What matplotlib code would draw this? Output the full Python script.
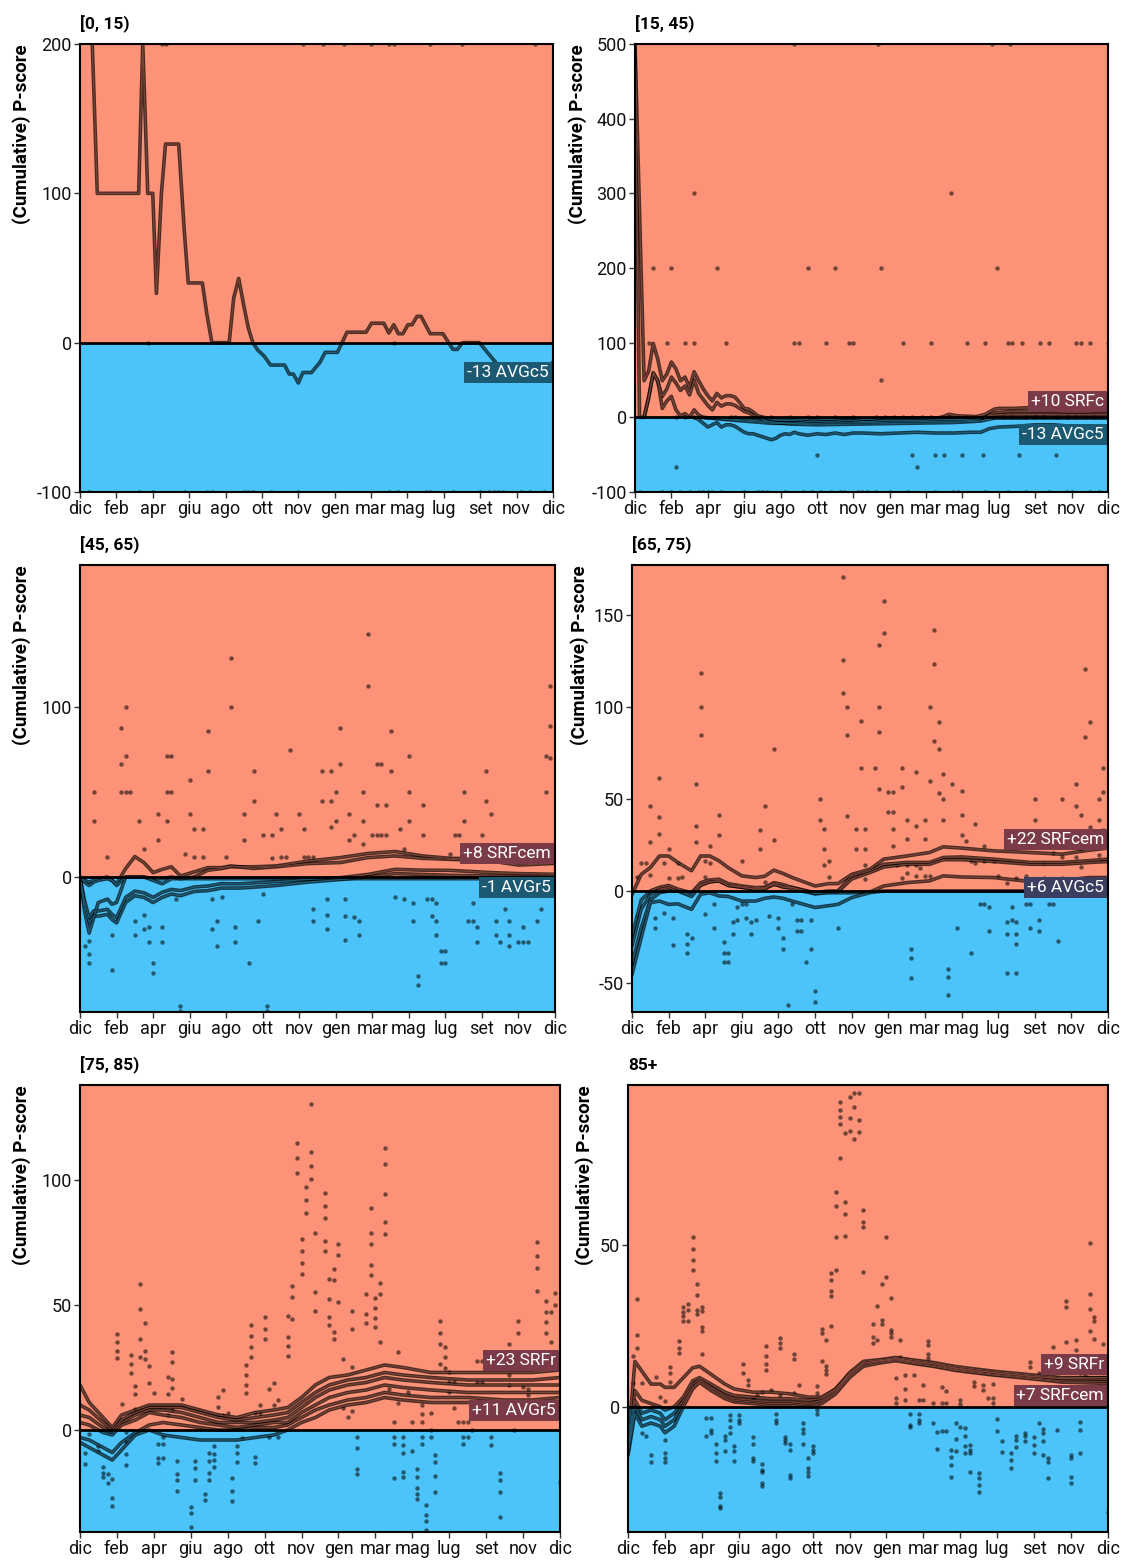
import matplotlib
matplotlib.use('Agg')
import matplotlib.pyplot as plt
from matplotlib.patches import Rectangle
from matplotlib.transforms import blended_transform_factory

plt.rcParams['font.family'] = ['Roboto', 'DejaVu Sans']

# ---------------- data ----------------
months = ['dic', 'feb', 'apr', 'giu', 'ago', 'ott', 'nov', 'gen', 'mar', 'mag', 'lug', 'set', 'nov', 'dic']
month_weeks = list(range(0, 105, 8))
titles = ['[0, 15)', '[15, 45)', '[45, 65)', '[65, 75)', '[75, 85)', '85+']
ylims = [(-100, 200), (-100, 500), (-79.4, 183.5), (-65.8, 177.2), (-40.8, 138), (-38.6, 99.2)]
yticks = [[-100, 0, 100, 200], [-100, 0, 100, 200, 300, 400, 500], [0, 100],
          [-50, 0, 50, 100, 150], [0, 50, 100], [0, 50]]

# panel 1 -----------------------------------------------------------
p1_w = [0, 2.7, 3.8, 12.9, 13.8, 14.9, 16, 16.8, 17.9, 18.8, 21.7, 22.9, 23.8, 26.9, 27.9, 29, 32.8, 33.8,
        34.9, 36, 37, 38, 39.1, 40.5, 41.9, 45, 46, 46.9, 48, 49, 50.9, 52.8, 53.9, 56.6, 58.7, 62.9, 64.1,
        66.8, 67.9, 69, 70, 71, 72.1, 73, 74.1, 75, 77, 79.8, 82, 83, 84.1, 87.8, 92.7, 97, 101, 104]
p1_v = [300, 200, 100, 100, 200, 100, 100, 33, 100, 133, 133, 76, 40, 40, 19, 0, 0, 30, 43, 25, 10, 0, -5,
        -9, -15, -15, -21, -21, -27, -20, -20, -13, -6.5, -6.5, 7, 7, 13, 13, 6.5, 12, 6, 6, 12, 12, 17.6,
        17.6, 6, 6, -4.5, -4.5, 0, 0, -18, -22, -22, -13]
p1_lines = [(p1_w, p1_v)]
p1_dots = [(18, 200), (19, 200), (49, 200), (53.5, 200), (58, 200), (64, 200), (68, 200), (69, 200),
           (77, 200), (84, 200), (100, 200),
           (2, -100), (13, -100), (16, -100), (23, -100), (28, -100), (29, -100), (36, -100), (37, -100),
           (38, -100), (42, -100), (48, -100), (68, -100), (70, -100), (76, -100), (77, -100), (82, -100),
           (88, -100), (90, -100), (91, -100), (92, -100), (93, -100), (97, -100), (99, -100), (102, -100),
           (15, 0), (69, 0)]
p1_labels = [('-13 AVGc5', -14.7, 'top', '#1b5a72')]

# panel 2 -----------------------------------------------------------
p2_l1_w = [0, 2, 3, 4, 5, 6, 7, 8, 9, 10, 11, 12, 13, 14, 15, 16, 17, 18, 19, 20, 21, 22, 23, 24, 25, 26, 27,
           29, 31, 35, 39, 43, 47, 51, 55, 59, 63, 67, 69, 71, 75, 77, 79, 80, 83, 87, 91, 95, 99, 104]
p2_l1_v = [500, 49, 62, 99, 78, 49, 58, 74, 65, 49, 54, 40, 61, 49, 38, 29, 22, 32, 26, 29, 29, 27, 20, 12,
           11, 7, 2, -1, -4, -4, -2, -3, -1, -3, -1, -1, -1, -1, 4, 2, 1, 4, 11, 12, 12, 13, 12, 10, 10, 11]
p2_l2_w = [2, 3, 4, 5, 6, 7, 8, 9, 10, 11, 12, 13, 14, 15, 16, 17, 18, 19, 20, 21, 22, 23, 24, 25, 26, 27,
           29, 31, 35, 39, 43, 47, 51, 55, 59, 63, 67, 71, 75, 77, 79, 83, 87, 91, 95, 99, 104]
p2_l2_v = [0, 28, 58, 48, 28, 38, 54, 46, 36, 42, 30, 50, 32, 24, 16, 10, 20, 15, 18, 18, 16, 12, 8, 6, 3,
           0, -5, -7, -8, -5, -6, -4, -6, -4, -4, -4, -3, -3, -2, 0, 6, 8, 8, 8, 7, 7, 8]
p2_l3_w = [0, 1, 2, 3, 4, 5, 6, 7, 8, 9, 10, 11, 12, 13, 14, 15, 20, 30, 40, 50, 60, 70, 75, 78, 80, 90, 104]
p2_l3_v = [500, 0, 0, 25, 60, 50, 12, 22, 28, 10, 2, 5, 0, 10, 3, 0, -3, -8, -8, -7, -6, -5, -4, 2, 4, 4, 4]
p2_l4_w = [13, 14, 15, 16, 17, 18, 19, 20, 21, 22, 23, 24, 25, 26, 27, 28, 29, 30, 31, 32, 33, 34, 35, 36,
           38, 40, 42, 44, 46, 48, 50, 54, 58, 62, 66, 70, 74, 76, 78, 80, 84, 88, 92, 96, 100, 104]
p2_l4_v = [0, -3, -8, -13, -10, -7, -13, -10, -10, -12, -16, -20, -22, -22, -24, -26, -28, -30, -28, -24,
           -22, -23, -20, -22, -24, -22, -23, -21, -23, -21, -21, -22, -21, -20, -21, -21, -20, -20, -15,
           -13, -12, -10, -10, -12, -13, -12]
p2_l5_w = [14, 20, 28, 34, 40, 50, 60, 70, 76, 79, 90, 104]
p2_l5_v = [0, -2, -5, -9, -10, -9, -8, -7, -5, -1, -1, -1]
p2_lines = [(p2_l5_w, p2_l5_v), (p2_l3_w, p2_l3_v), (p2_l2_w, p2_l2_v), (p2_l4_w, p2_l4_v), (p2_l1_w, p2_l1_v)]
p2_hundred = [3, 7, 11, 13, 20, 35, 36, 42, 47, 48, 59, 65, 73, 77, 82, 83, 85, 89, 91, 97, 98, 100, 104]
p2_bottom = [1, 6, 8, 10, 12, 14, 15, 16, 17, 19, 24, 27, 28, 29, 33, 37, 39, 41, 43, 45, 46, 49, 50, 51,
             53, 56, 60, 66, 70, 71, 77, 82, 86, 91, 95, 96, 100, 102, 104]
p2_zero = [9, 11, 13, 21, 22, 26, 30, 34, 38, 40, 44, 48, 53, 55, 57, 59, 61, 63, 65, 67, 69, 71, 73, 75,
           79, 81, 83, 86, 88, 90, 93, 95, 97, 99, 101]
p2_dots = ([(w, 100) for w in p2_hundred] + [(w, -100) for w in p2_bottom] + [(w, 0) for w in p2_zero] +
           [(4, 200), (8, 200), (18, 200), (38, 200), (44, 200), (54, 200), (79.5, 200),
            (13, 300), (69.5, 300), (54, 50),
            (40, -50), (61, -50), (66, -50), (68, -50), (72, -50), (76.5, -50), (84.5, -50), (92.5, -50),
            (9, -67), (62, -67), (35, 500), (53.5, 500), (78.5, 500), (82.5, 500)])
p2_labels = [('+10 SRFc', 10.7, 'bottom', '#7b3a47'), ('-13 AVGc5', -13.4, 'top', '#1b5a72')]

# panel 3 -----------------------------------------------------------
p3_w = [0, 1, 2, 3, 4, 6, 7, 8, 10, 12, 14, 16, 18, 20, 22, 25, 28, 31, 33, 35, 38, 43, 50, 57, 63, 69, 75,
        81, 90, 96, 104]
p3_a = [0, -3, -5, -3, -2, -1, -2, -4, 5, 12, 8.5, 2.6, 4.5, 6, 0.6, 3, 5.5, 5.5, 6.5, 6, 6, 6.5, 9.4, 11.4,
        13.8, 15, 12.4, 11, 10.4, 8.5, 8.5]
p3_b = [0, -20, -33, -24, -15, -13, -16, -15, 0, 0, 0, -2, -4, -1, -1, 0, 4, 5, 6, 6, 5, 6, 7.9, 8.5, 11.4,
        12.4, 11, 10.4, 9.4, 7, 8]
p3_c = [0, -2, -3, -2, -1, 0, -2, -5, 0, 0, 0, -1, -1, 0, -1, -1, -1, -1, -1, -1, -1, -1, -1, -1, -1, -1,
        -1, -1, -1, -1, -1]
p3_d = [0, -14, -24, -20, -20, -19, -22, -24, -12, -8.3, -9.3, -12, -9, -7.3, -8, -5.9, -5.3, -3.9, -4, -4,
        -3.5, -2.7, -1.4, -0.4, 1.5, 4.5, 4, 3.9, 2.6, 2, 1.6]
p3_e = [0, -17, -27, -23, -23, -22, -25, -27, -15, -11, -12, -15, -12, -10, -11, -8.5, -8, -6.5, -6.5, -6.5,
        -6, -5, -3, -1.5, 0, 2, 1.5, 1, 0.6, 0.4, 0.5]
p3_lines = [(p3_w, p3_e), (p3_w, p3_d), (p3_w, p3_c), (p3_w, p3_a), (p3_w, p3_b)]
p3_dots = [(63, 142.9), (33, 128.8), (63, 112.4), (103, 112.4), (10, 100), (33, 100), (9, 87.4), (28, 85.6),
           (57, 87.4), (68, 85.6), (103, 88.8), (46, 74.8), (19, 71.3), (20, 71.3), (10, 71.3), (72, 71.3),
           (102, 71.3), (103, 70.1), (9, 66.5), (57, 66.5), (65, 66.5), (66, 66.5), (28, 62.2), (38, 62.2),
           (53, 62.2), (55, 62.2), (68, 62.2), (89, 62.2), (24, 56.9), (3, 49.8), (9, 49.8), (10, 49.8),
           (11, 49.8), (19, 49.8), (20, 49.8), (56, 49.8), (62, 49.8), (72, 49.8), (84, 49.8), (102, 49.8),
           (38, 44.5), (53, 44.5), (55, 44.5), (65, 42.5), (67, 42.5), (75, 42.5), (89, 44.5), (17, 37.2),
           (24, 37.2), (36, 37.2), (43, 37.2), (48, 37.2), (59, 37.2), (90, 37.2), (3, 33.1), (13, 33.1),
           (19, 33.1), (56, 33.1), (62, 33.1), (72, 33.1), (84, 33.1), (55, 29.7), (25, 28.3), (27, 28.3),
           (44, 28.3), (49, 28.3), (70, 28.3), (17, 21.9), (36, 21.9), (40, 24.6), (42, 24.6), (60, 24.6),
           (64, 24.6), (65, 24.6), (66, 24.6), (67, 24.6), (75, 24.6), (82, 24.6), (83, 24.6), (88, 24.6),
           (59, 21.9), (62, 19.3), (14, 16.3), (23, 13.8), (6, 12), (25, 12), (27, 12), (32, 12), (42, 11),
           (44, 12), (45, 12), (49, 12), (50, 12), (51, 12), (71, 16.3), (81, 13.8),
           (69, -11.8), (71, -13.2), (73, -15), (76, -13.2), (77, -13.2), (78, -15), (86, -15), (54, -13.2),
           (58, -13.2), (21, -13.2), (29, -13.2), (31, -11.8), (40, -9.8), (51, -18.9), (93, -18.9),
           (101, -18.9), (12, -25.8), (14, -22.4), (30, -25.8), (39, -25.8), (51, -25.8), (54, -22.4),
           (58, -22.8), (60, -23.6), (61, -25.8), (73, -25.8), (77, -22.8), (78, -25.8), (85, -25.8),
           (86, -25.8), (91, -25.8), (94, -25.8), (97, -29.5), (100, -25.8), (7, -33.9), (12, -33.9),
           (15, -29.5), (14, -30.7), (18, -29.5), (29, -30.7), (34, -29.5), (54, -30.7), (78, -33.9),
           (87, -29.5), (91, -33.9), (94, -33.9), (61, -33.9), (1, -40.8), (2, -37.8), (15, -38.2),
           (18, -38.2), (30, -40.8), (34, -38.2), (58, -37), (87, -38.2), (92, -38.2), (94, -40.8),
           (96, -38.2), (97, -38.2), (98, -38.2), (2, -45.3), (79, -43.7), (80, -43.7), (2, -50.8),
           (16, -50.8), (37, -50.8), (79, -50.8), (80, -50.8), (7, -54.5), (16, -56.3), (74, -58.1),
           (74, -63.4), (22, -76), (22, -78.6), (41, -76), (41, -78.6)]
p3_labels = [('+8 SRFcem', 9.5, 'bottom', '#7b3a47'), ('-1 AVGr5', -1.5, 'top', '#1b5a72')]

# panel 4 -----------------------------------------------------------
p4_w = [0, 2, 4, 6, 8, 10, 13, 15, 17, 19, 21, 24, 27, 29, 31, 33, 35, 40, 43, 45, 48, 52, 55, 60, 65, 68,
        72, 79, 87, 94, 100, 104]
p4_a = [-2, 9, 12.7, 19, 19, 15.5, 11, 19, 19, 16.4, 12.7, 8.2, 7.3, 8, 11.3, 9.5, 7.3, 2.7, 4, 4, 9, 11.8,
        17.3, 19, 20.9, 24, 23.3, 21.8, 20.9, 20, 22.2, 23.3]
p4_b = [-25, -5, 0, 2, 3, 1, -1, 4.5, 6, 6.4, 4, 2.7, 1.8, 2, 4.5, 3.5, 1.8, -0.9, 0, 0, 8.2, 11, 14.5, 15.5,
        15.5, 18.2, 18.5, 17.3, 15.5, 15.5, 16.5, 17.3]
p4_c = [-30, -10, -2, 1, 2, 0, -2, 3.5, 5, 5.5, 3, 2, 1, 1.5, 3.5, 2.5, 1, -1.5, -0.5, -0.5, 6.5, 10, 13,
        14.5, 14.5, 17, 17, 16, 14.5, 14.5, 15.5, 16]
p4_d = [-40, -20, -5, -1, 0, 0, -3, 3, 5, 5.5, 3, 2, 1, 1, 4, 2, 2, -1.5, -1, -1, -1, -0.5, 2.7, 4.5, 5.5,
        8.2, 7.6, 7.3, 5.1, 5.8, 7.3, 7.3]
p4_e = [-45.5, -25.5, -6.4, -5.5, -7.3, -7, -10, -1.8, -1, -2.7, -3, -5.5, -5.5, -4, -3.3, -4, -5.5, -9, -8,
        -7.3, -3.6, -0.9, 0, 0, 0, 0, 0, 0, 0, 0, 0, 0]
p4_lines = [(p4_w, p4_e), (p4_w, p4_c), (p4_w, p4_b), (p4_w, p4_a), (p4_w, p4_d)]
p4_dots = [(46, 170.5), (55, 157.5), (55, 140.4), (66, 141.8), (54, 133.6), (46, 125.3), (66, 123.3),
           (15, 118.5), (99, 120.4), (46, 107.8), (15, 100), (47, 100), (54, 100), (65, 100), (100, 91.6),
           (50, 92.4), (67, 91.6), (15, 84.7), (47, 84.7), (54, 86.5), (66, 81.3), (99, 83.5), (67, 77.1),
           (31, 77.1), (50, 66.7), (53, 66.7), (59, 66.7), (103, 66.7), (62, 64.4), (65, 60), (68, 63.6),
           (70, 58.2), (97, 58.2), (6, 61.5), (14, 58.4), (59, 56.4), (54, 55.5), (56, 54), (57, 54),
           (72, 54.5), (103, 54), (67, 53.3), (68, 49.8), (41, 49.8), (88, 49.8), (94, 49.8), (102, 49.8),
           (4, 46), (29, 46), (97, 46), (56, 42.7), (57, 42.7), (72, 41.5), (98, 41.5), (6, 40), (19, 41.5),
           (47, 40.9), (41, 38.4), (60, 38.4), (64, 38.4), (68, 38.4), (88, 38.4), (102, 38.4), (75, 36.4),
           (14, 35.5), (62, 35.1), (42, 33.5), (49, 33.5), (51, 33.5), (57, 33.5), (100, 34.9), (103, 33.1),
           (6, 31.1), (19, 30.5), (72, 30.5), (73, 27.1), (60, 28.4), (64, 28.4), (4, 26.7), (14, 26.7),
           (31, 27.6), (17, 24.7), (28, 33.3), (57, 24.7), (28, 22.9), (77, 24.7), (42, 22.9), (49, 22.9),
           (51, 22.9), (98, 22.9), (8, 22.9), (102, 19.6), (92, 20.9), (94, 18.2), (97, 18.2), (90, 15.1),
           (98, 13.1), (42, 14.2), (43, 16.4), (7, 15.1), (2, 15.1), (3, 15.1), (10, 15.1), (16, 16.4),
           (17, 15.1), (24, 16.4), (51, 14.2), (58, 14.2), (60, 14.2), (62, 14.2), (63, 12.7), (74, 16.4),
           (75, 15.1), (77, 16.4), (79, 16.4), (80, 8.2), (86, 8.2), (90, 6.9), (94, 6.9), (84, 6.9),
           (8, 6.9), (10, 6.9), (11, 7.8), (16, 7.8), (29, 5.1), (43, 7.8), (51, 6.4), (59, 6.9), (60, 9.5),
           (62, 8.2), (64, 8.2), (65, 8.2), (82, 4.5), (97, 4.5), (4, 8.5), (1, 7.6),
           (1, -13.6), (5, -14.5), (5, -20.4), (7, -11.8), (9, -14.5), (9, -29.6), (12, -23.3), (12, -28.7),
           (12, -33.6), (13, -25.5), (16, -12.7), (18, -7.3), (18, -20.4), (20, -27.6), (20, -33.6),
           (20, -38.7), (21, -33.6), (21, -38.7), (22, -16.8), (22, -23.3), (23, -8.7), (23, -15.6),
           (24, -7.3), (25, -7.3), (25, -14.5), (26, -16.8), (26, -23.3), (27, -15.6), (30, -13.6),
           (32, -14.5), (32, -20.4), (33, -25.5), (33, -31.3), (35, -7.3), (36, -15.6), (36, -21.8),
           (37, -15.6), (37, -21.8), (38, -38.7), (39, -15.6), (39, -31.6), (40, -54.5), (40, -60.5),
           (34, -61.8), (45, -20.4), (61, -31.3), (61, -36.4), (61, -47.3), (69, -42.2), (69, -46.7),
           (69, -56.7), (71, -20.4), (74, -33.6), (76, -7.3), (77, -7.3), (78, -8.7), (78, -21.8),
           (82, -16.8), (82, -23.3), (82, -44.7), (83, -15.6), (83, -8.7), (84, -16.8), (84, -23.3),
           (84, -28.7), (84, -44.7), (86, -7.3), (87, -20.4), (89, -15.6), (89, -21.8), (91, -7.3),
           (92, -7.3), (93, -27.3), (87, -7.3)]
p4_labels = [('+22 SRFcem', 23.9, 'bottom', '#7b3a47'), ('+6 AVGc5', 6.0, 'top', '#3b3e5e')]

# panel 5 -----------------------------------------------------------
p5_w = [0, 2, 5, 7, 9, 12, 15, 18, 22, 26, 30, 34, 38, 42, 45, 48, 51, 54, 58, 62, 66, 70, 76, 84, 92, 98, 104]
p5_a = [18, 11, 5, 1, 6, 8, 10, 10, 10, 8, 6, 5, 7, 8, 9, 13, 18, 21, 22, 24, 26, 25, 23, 23, 23, 23, 24]
p5_b = [10, 8, 3, 0, 4, 7, 9, 9, 9, 7, 5, 4, 5, 6, 7, 11, 15, 18, 20, 21, 23, 22, 21, 20, 20, 20, 21]
p5_c = [6, 5, 1, -1, 3, 6, 8, 8, 7, 5, 3, 3, 3, 4, 5, 9, 13, 16, 18, 19, 21, 20, 19, 18, 18, 18, 18]
p5_d = [3, 2, -1, -2, 2, 4, 7, 6, 5, 3, 2, 1, 2, 3, 3, 7, 10, 13, 15, 16, 18, 17, 16, 15, 15, 15, 15]
p5_e = [-3, -4, -7, -9, -5, -1, 2, 3, 2, 1, 0, 0, 1, 1, 2, 5, 8, 10, 12, 13, 15, 14, 13, 13, 12, 12, 13]
p5_f = [-5, -7, -10, -12, -8, -2, 0, -2, -3, -4, -4, -4, -3, -2, 0, 3, 5, 8, 10, 11, 13, 12, 11, 11, 11, 11, 11]
p5_lines = [(p5_w, p5_f), (p5_w, p5_e), (p5_w, p5_d), (p5_w, p5_c), (p5_w, p5_b), (p5_w, p5_a)]
p5_dots = [(50, 130.4), (47, 114.9), (47, 108.7), (50, 111.3), (50, 105.6), (47, 102.9), (50, 100.3),
           (49, 97.3), (49, 92), (49, 86.9), (66, 113), (66, 106.4), (66, 94.3), (66, 83.3), (66, 78.4),
           (53, 94.7), (53, 89.6), (53, 84.8), (53, 75.6), (53, 71.6), (51, 78.9), (56, 74.4), (56, 70.1),
           (63, 89), (63, 78.9), (63, 74.4), (63, 66), (63, 62), (48, 76.5), (48, 71.5), (48, 66.7),
           (48, 62.3), (55, 64.3), (54, 60.5), (55, 60), (65, 58.9), (46, 57.6), (51, 55.3), (54, 52.4),
           (56, 51.2), (65, 54.4), (64, 52.7), (64, 48.7), (62, 54.3), (62, 46.3), (62, 42.7), (64, 44.7),
           (64, 41.1), (59, 47.7), (51, 47.7), (54, 45.3), (54, 41.9), (55, 39.1), (55, 36.3), (59, 40.3),
           (65, 35.1), (46, 53.1), (46, 44.5), (45, 45.6), (45, 37.3), (45, 33.6), (45, 29.7), (40, 45.2),
           (40, 40.5), (40, 36.5), (37, 42), (37, 37.6), (37, 33.3), (37, 29.3), (36, 25.9), (36, 21.9),
           (36, 18.1), (36, 14.7), (42, 18.9), (41, 16.3), (43, 12), (42, 10), (39, 9.9), (39, 6.7),
           (38, 6.7), (31, 16), (30, 13.1), (30, 9.3), (32, 6.7), (30, 6), (31, 6), (13, 58.3), (13, 48.5),
           (14, 42.9), (13, 36.3), (13, 29.1), (14, 31.7), (14, 28.4), (15, 25.7), (12, 17.6), (12, 14.4),
           (15, 18.9), (16, 14.8), (11, 29.9), (11, 26.4), (11, 22.9), (8, 38.4), (8, 35.1), (8, 31.7),
           (8, 28.7), (9, 10.4), (12, 8.3), (19, 21.3), (20, 31.3), (20, 27.3), (20, 20.3), (20, 16.7),
           (19, 14.4), (22, 12.5), (20, 8), (19, 6), (99, 75.1), (99, 69.7), (99, 64.7), (99, 55.7),
           (101, 51.6), (101, 47.1), (101, 43.1), (101, 38.9), (103, 54.9), (103, 50), (102, 47.1),
           (102, 35.2), (95, 43.5), (95, 38.7), (93, 34.4), (87, 27.6), (86, 27.6), (78, 43.5), (78, 38.7),
           (78, 34.4), (79, 33.3), (79, 29.1), (78, 26.4), (79, 24.9), (80, 23.3), (80, 19.3), (80, 15.3),
           (81, 19.3), (86, 19.3), (87, 19.3), (93, 22), (93, 18), (96, 17.3), (97, 16.5), (97, 14),
           (97, 10.7), (101, 11.3), (81, 8.9), (67, 16.3), (69, 31.3), (71, 15.2), (69, 10.7), (74, 10),
           (74, 6.4), (74, 3.3), (76, 6.9), (72, 3.3), (68, 3.3), (84, 3.3), (82, 3.3), (83, 3.3), (85, 0),
           (94, 0), (76, 0), (59, 7.7), (58, 5.1), (57, 8.7), (57, 28.3), (59, 25.1),
           (60, -2.7), (60, -7.3), (60, -15.7), (60, -17.7), (68, -2.7), (68, -5.6), (68, -19.1), (70, -2.7),
           (70, -6), (70, -9.1), (70, -16.7), (70, -18.7), (72, -8.4), (73, -15.7), (73, -18.7), (73, -23.3),
           (73, -25.6), (73, -27.7), (75, -30), (75, -34), (75, -36.3), (75, -40), (77, -10), (77, -12.7),
           (77, -18.3), (77, -24.9), (74, -2.7), (74, -5.6), (76, -2.7), (83, -2.7), (83, -5.6), (84, -2.7),
           (89, -2.7), (89, -6), (91, -17.1), (91, -20), (91, -24.9), (91, -34.9), (104, -20.7), (1, -9.3),
           (1, -13.6), (2, -1.6), (4, -6.4), (4, -8.4), (5, -14.7), (5, -17.1), (5, -18.7), (6, -17.7),
           (6, -21.1), (7, -19.7), (7, -27.1), (7, -30.4), (10, -0.7), (10, -4.9), (10, -9.7), (10, -14),
           (17, -5.6), (17, -11.1), (17, -13.3), (18, -2.7), (18, -5.6), (18, -11.1), (21, -12.4),
           (21, -17.7), (21, -20), (21, -24.3), (24, -30.9), (24, -33.3), (24, -38.7), (25, -12.4),
           (25, -15.1), (25, -20), (27, -25.7), (27, -28), (28, -9.3), (28, -12.4), (28, -17.3), (28, -20),
           (29, -6.4), (29, -9.6), (29, -12), (29, -14.7), (33, -19.1), (33, -24.3), (33, -28.4), (34, -6.4),
           (34, -9.1), (34, -12.7), (35, -3.3), (38, -10.7), (38, -13.1), (41, -2.7), (43, -2.7)]
p5_labels = [('+23 SRFr', 24.8, 'bottom', '#7b3a47'), ('+11 AVGr5', 10.8, 'top', '#7b3a47')]

# panel 6 -----------------------------------------------------------
p6_w = [0, 1.5, 3, 5, 7, 8, 10, 12, 14, 15.5, 18, 21, 23, 27, 31, 35, 39, 42, 45, 48, 51, 55, 58, 62, 66, 71,
        79, 87, 94, 104]
p6_a = [-12, 14, 11, 7, 7, 6, 6, 9, 12, 12.5, 10, 7, 5.5, 4.5, 4.5, 4, 3, 3, 5.5, 10, 13.5, 14.2, 14.9, 13.9,
        13.3, 11.8, 10.5, 9.4, 8.7, 9]
p6_b = [-13, 2, -2, -1, -2, -4, -2, 2, 7, 8.5, 6, 3.5, 2.5, 2, 1.5, 1.5, 1, 2, 5, 10, 13.5, 14.3, 14.8, 14,
        13.3, 12, 10.6, 9.5, 8.6, 8.5]
p6_c = [-14, 0, -4, -3, -4, -6, -4, 1, 6, 8, 5.5, 3, 2, 1.5, 1, 1, 0.5, 1.5, 4.5, 9.5, 13, 14, 14.5, 13.6,
        12.8, 11.5, 10.1, 9, 8, 7.8]
p6_d = [-15, -2, -6, -5, -6, -8, -6, 0, 5.5, 7.5, 5, 2.5, 1.5, 1, 0.5, 0.5, 0, 1, 4, 9, 12.5, 13.6, 14.2,
        13.3, 12.5, 11.2, 9.8, 8.7, 7.6, 7.2]
p6_e = [-12, 5, 2, 1, 0, -1, 0, 3, 8, 9, 7, 4.5, 3.5, 3, 2.5, 2.5, 2, 2.5, 5.5, 10.5, 14, 14.6, 15.2, 14.4,
        13.7, 12.4, 11, 9.9, 9, 9]
p6_lines = [(p6_w, p6_a), (p6_w, p6_e), (p6_w, p6_b), (p6_w, p6_c), (p6_w, p6_d)]
p6_dots = [(46, 93.9), (48, 95.5), (49, 96.7), (50, 96.7), (49, 92.4), (46, 91.6), (46, 89.3), (48, 89.1),
           (50, 88.5), (46, 87.3), (47, 84.4), (48, 85), (50, 84.7), (49, 82.5), (46, 76.8), (45, 66.1),
           (45, 61.9), (47, 63.1), (47, 59.4), (45, 52.3), (47, 52.7), (51, 60.6), (51, 57), (51, 55.4),
           (51, 41.5), (44, 41.1), (45, 42.1), (44, 39), (44, 35.7), (44, 34.1), (42, 24.1), (42, 22.8),
           (43, 20.7), (44, 24.8), (56, 52.3), (56, 39.9), (55, 38), (57, 33.6), (54, 31), (53, 25.4),
           (55, 26.7), (55, 25.4), (53, 21.5), (53, 19.8), (54, 20.5), (57, 23.8), (57, 22.8), (57, 21.5),
           (59, 20.7), (14, 52.3), (14, 48.7), (14, 45.4), (14, 42.1), (15, 37.8), (15, 34.4), (15, 29.8),
           (15, 28.7), (16, 30.8), (16, 29.6), (16, 24.6), (16, 23.4), (13, 31.8), (13, 29.8), (13, 26.5),
           (12, 30.8), (12, 29.2), (12, 27.9), (12, 26.5), (16, 16.4), (11, 20.3), (11, 18), (11, 16.6),
           (9, 12.3), (9, 10.3), (9, 7.7), (2, 33.3), (2, 22.1), (2, 18), (1, 15.7), (1, 7.2), (3, 7.2),
           (6, 9.1), (7, 3.1), (8, 1.8), (25, 13.1), (25, 10.3), (26, 8.2), (26, 6.7), (30, 18.7),
           (30, 15.6), (30, 13.3), (30, 11.3), (31, 5.1), (33, 21.3), (33, 19.7), (33, 18.2), (36, 16.2),
           (36, 14.6), (37, 6.7), (41, 6.4), (41, 4.3), (42, 14.2), (43, 12.5), (43, 11.3), (43, 10),
           (33, 3.6), (29, 4.6), (28, 3.6), (27, 2.6), (36, 4.1), (59, 15.2), (62, 9.9), (64, 6.6),
           (65, 20.4), (65, 19), (65, 16.4), (65, 14.9), (68, 6.1), (69, 4.8), (58, 8.9), (60, 9.7),
           (60, 5.6), (58, 2.6), (58, 1.2), (60, 2), (63, 2), (64, 2), (66, 1.2), (68, 1.2), (69, 1.2),
           (72, 2.2), (72, 1), (75, 7.7), (75, 6.4), (77, 5.1), (77, 6.6), (78, 2.6), (79, 6.9), (79, 2.6),
           (79, 1.2), (87, 13.8), (87, 12.3), (89, 10.3), (92, 18.5), (95, 19.9), (97, 20.7), (95, 32.5),
           (95, 30.8), (100, 50.6), (100, 34.9), (100, 30.2), (101, 27.7), (101, 26.4), (100, 23.4),
           (101, 21), (103, 19.5), (97, 17.6), (96, 14.2), (98, 10.5), (99, 9.4), (103, 14.2),
           (3, -8.2), (4, -9.1), (5, -14.9), (5, -17), (8, -10.3), (8, -14.4), (8, -15.7), (8, -17),
           (17, -3.6), (18, -3.6), (18, -7.2), (18, -8.2), (17, -9.1), (19, -11.5), (19, -14.4), (19, -16.6),
           (20, -26.7), (20, -27.9), (20, -30.6), (20, -31.3), (21, -9.1), (21, -10.3), (21, -13.6),
           (22, -2.6), (22, -4.1), (22, -6.2), (22, -8.2), (23, -12.1), (23, -13.6), (23, -16.6), (24, -2.6),
           (24, -4.1), (24, -5.1), (27, -9.3), (27, -11.5), (27, -15.7), (27, -16.6), (29, -17.5),
           (29, -19.5), (29, -20.2), (29, -23.4), (29, -24.5), (32, -2.1), (32, -4.1), (32, -5.1), (34, -9.3),
           (34, -10.3), (34, -11.3), (35, -11.5), (35, -13.2), (35, -21), (35, -22.1), (38, -5.1), (38, -6.7),
           (38, -8.2), (38, -11.5), (39, -15.9), (39, -19), (39, -20), (39, -21.4), (40, -12.1), (40, -13.2),
           (40, -14.2), (41, -1), (41, -2.1), (61, -2.1), (61, -5.7), (61, -6.2), (63, -2.1), (63, -4.1),
           (63, -4.9), (66, -5.1), (67, -7.7), (67, -12.9), (68, -7.4), (69, -7.4), (70, -13.4), (70, -15.4),
           (70, -17.8), (70, -21.6), (71, -5.1), (71, -9.8), (71, -13.6), (72, -6.2), (73, -6.4), (73, -9.1),
           (73, -12.1), (73, -14.4), (74, -11.8), (74, -13.4), (74, -14.4), (74, -20), (76, -20.3),
           (76, -22.1), (76, -24.1), (76, -26.3), (80, -3.9), (80, -7.4), (81, -10.6), (81, -13.9),
           (83, -14.4), (83, -16.4), (83, -18.8), (84, -9.1), (84, -10.3), (84, -12.3), (86, -8), (86, -9.1),
           (86, -10.6), (88, -9.3), (88, -11.8), (88, -14.2), (89, -5.1), (90, -7), (90, -8.2), (90, -10.6),
           (90, -14.9), (91, -15.9), (91, -17), (91, -22.1), (93, -7.2), (96, -14.9), (96, -15.9),
           (96, -21.6), (96, -23.4), (98, -4.6), (98, -7.2), (98, -14.2), (104, -32.4)]
p6_labels = [('+9 SRFr', 10.8, 'bottom', '#7b3a47'), ('+7 SRFcem', 5.9, 'top', '#7b3a47')]

all_lines = [p1_lines, p2_lines, p3_lines, p4_lines, p5_lines, p6_lines]
all_dots = [p1_dots, p2_dots, p3_dots, p4_dots, p5_dots, p6_dots]
all_labels = [p1_labels, p2_labels, p3_labels, p4_labels, p5_labels, p6_labels]

# ---------------- style / layout ----------------
SALMON = '#fc9378'
BLUE = '#4cc3f9'
INNER_POS = '#80463a'
INNER_NEG = '#1f617c'
W, H = 1123, 1561
boxes = [(80, 553, 44, 492), (635, 1108, 44, 492), (80, 555, 565, 1012),
         (632, 1108, 565, 1012), (80, 560, 1085, 1532), (628, 1108, 1085, 1532)]
ylabel_x = [22, 578, 22, 580, 22, 585]

fig = plt.figure(figsize=(W / 100, H / 100), dpi=100)

for i in range(6):
    l, r, t, b = boxes[i]
    ax = fig.add_axes([l / W, 1 - b / H, (r - l) / W, (b - t) / H])
    y0, y1 = ylims[i]
    ax.set_xlim(0, 104)
    ax.set_ylim(y0, y1)
    ax.axhspan(0, y1 + 1000, color=SALMON, lw=0, zorder=0)
    ax.axhspan(y0 - 1000, 0, color=BLUE, lw=0, zorder=0)

    dots = all_dots[i]
    ax.scatter([d[0] for d in dots], [d[1] for d in dots], s=10, color='black', alpha=0.55,
               linewidths=0, zorder=2)

    pos_clip = Rectangle((0, 0), 104, y1, transform=ax.transData)
    neg_clip = Rectangle((0, y0), 104, -y0, transform=ax.transData)
    for (xw, yv) in all_lines[i]:
        ax.plot(xw, yv, color='black', alpha=0.7, lw=2.6, solid_joinstyle='round',
                solid_capstyle='round', zorder=3)
        lp, = ax.plot(xw, yv, color=INNER_POS, lw=0.8, alpha=0.9, zorder=3.1)
        lp.set_clip_path(pos_clip)
        ln, = ax.plot(xw, yv, color=INNER_NEG, lw=0.8, alpha=0.9, zorder=3.1)
        ln.set_clip_path(neg_clip)

    ax.axhline(0, color='black', lw=2.0, zorder=4)

    tr = blended_transform_factory(ax.transAxes, ax.transData)
    for (txt, yv, va, col) in all_labels[i]:
        ax.text(1 - 4 / (r - l), yv, txt, transform=tr, ha='right', va=va, color='white',
                fontsize=12.5, zorder=6,
                bbox=dict(boxstyle='square,pad=0.17', fc=col, ec='none'))

    ax.set_xticks(month_weeks)
    ax.set_xticklabels(months)
    ax.set_yticks(yticks[i])
    ax.set_yticklabels([str(v) for v in yticks[i]])
    ax.tick_params(axis='both', labelsize=13, length=4, width=1, color='#333333', pad=2,
                   labelcolor='#111111')
    for sp in ax.spines.values():
        sp.set_linewidth(1.5)
        sp.set_color('black')
        sp.set_zorder(7)

    ax.text(0, 1 + 20 / (b - t), titles[i], transform=ax.transAxes, ha='left', va='center',
            fontsize=12.5, fontweight='bold')
    ax.text((ylabel_x[i] - l) / (r - l), 1.0, '(Cumulative) P-score', transform=ax.transAxes,
            rotation=90, ha='center', va='top', fontsize=13.5, fontweight='bold')

fig.savefig('out.png', dpi=100)
